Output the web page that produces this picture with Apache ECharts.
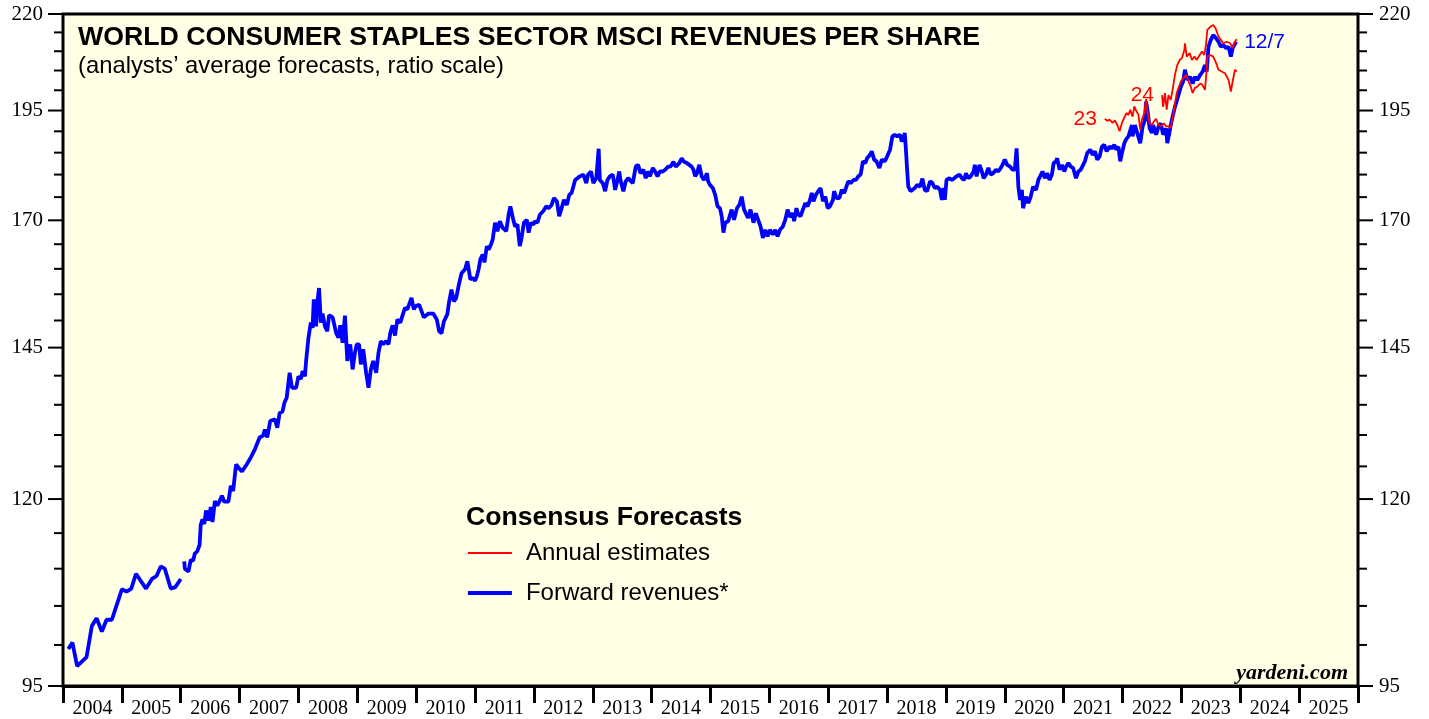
<!DOCTYPE html>
<html>
<head>
<meta charset="utf-8">
<title>World Consumer Staples Sector MSCI Revenues per Share</title>
<script src="https://cdn.jsdelivr.net/npm/echarts/dist/echarts.min.js"></script>
<style>
  html, body { margin: 0; padding: 0; background: #fff; }
  #chart { width: 1429px; height: 719px; }
</style>
</head>
<body>
<div id="chart"></div>
<script>
// x axis: one category per calendar year, data on a hidden decimal-year value axis
const years = ['2004','2005','2006','2007','2008','2009','2010','2011','2012','2013','2014',
  '2015','2016','2017','2018','2019','2020','2021','2022','2023','2024','2025'];
const xMin = 2004, xMax = 2026;

// ratio scale ticks
const yMajorTicks = [95, 120, 145, 170, 195, 220];
const yMinorTicks = [100, 105, 110, 115, 125, 130, 135, 140, 150, 155, 160, 165,
  175, 180, 185, 190, 200, 205, 210, 215];

// forward revenues per share, [decimal year, value]; '-' = break in the series
const fwdRevenues = [
  [2004.09, 99.5], [2004.16, 100.3], [2004.24, 97.4], [2004.40, 98.5], [2004.49, 102.4],
  [2004.57, 103.4], [2004.66, 101.7], [2004.74, 103.2], [2004.83, 103.2], [2005.00, 107.2],
  [2005.08, 106.9], [2005.16, 107.3], [2005.24, 109.3], [2005.41, 107.3], [2005.51, 108.6],
  [2005.59, 109.0], [2005.66, 110.3], [2005.73, 110.0], [2005.83, 107.3], [2005.91, 107.5],
  [2006.00, 108.6], [2006.03, '-'],
  [2006.06, 111.0], [2006.07, 110.0], [2006.13, 109.6], [2006.17, 111.2], [2006.21, 111.1],
  [2006.24, 112.1], [2006.28, 112.4], [2006.32, 113.3], [2006.34, 116.2], [2006.37, 117.0],
  [2006.40, 116.3], [2006.43, 118.3], [2006.47, 116.8], [2006.51, 118.8], [2006.54, 116.6],
  [2006.58, 119.7], [2006.62, 119.0], [2006.66, 119.7], [2006.70, 120.5], [2006.74, 119.6],
  [2006.81, 119.6], [2006.85, 122.0], [2006.89, 121.2], [2006.94, 125.3], [2007.00, 124.6],
  [2007.04, 124.2], [2007.12, 125.3], [2007.19, 126.4], [2007.26, 127.7], [2007.34, 129.6],
  [2007.40, 129.9], [2007.43, 130.9], [2007.47, 129.6], [2007.52, 132.3], [2007.60, 132.6],
  [2007.64, 131.2], [2007.68, 133.6], [2007.73, 133.9], [2007.76, 135.3], [2007.80, 136.2],
  [2007.85, 140.5], [2007.89, 137.9], [2007.92, 138.1], [2007.96, 137.9], [2008.00, 139.9],
  [2008.04, 139.4], [2008.07, 140.8], [2008.11, 139.9], [2008.13, 142.6], [2008.17, 146.8],
  [2008.21, 149.6], [2008.24, 148.6], [2008.26, 154.0], [2008.30, 148.9], [2008.32, 153.4],
  [2008.35, 156.2], [2008.38, 149.6], [2008.41, 151.3], [2008.45, 148.9], [2008.49, 148.0],
  [2008.52, 151.0], [2008.58, 150.6], [2008.64, 147.7], [2008.68, 146.8], [2008.71, 149.1],
  [2008.75, 145.9], [2008.79, 150.9], [2008.83, 142.6], [2008.88, 145.6], [2008.92, 141.1],
  [2008.96, 144.1], [2008.99, 145.6], [2009.03, 145.6], [2009.06, 142.0], [2009.10, 144.7],
  [2009.15, 140.5], [2009.19, 137.9], [2009.23, 141.1], [2009.27, 142.6], [2009.32, 140.5],
  [2009.36, 144.1], [2009.40, 146.2], [2009.44, 145.6], [2009.49, 146.2], [2009.53, 145.6],
  [2009.56, 147.7], [2009.60, 149.1], [2009.64, 147.2], [2009.68, 150.2], [2009.73, 149.6],
  [2009.77, 151.0], [2009.81, 152.4], [2009.85, 152.1], [2009.92, 154.3], [2009.96, 152.1],
  [2009.99, 152.7], [2010.05, 153.0], [2010.13, 150.6], [2010.21, 151.3], [2010.29, 151.3],
  [2010.35, 150.2], [2010.39, 148.0], [2010.43, 147.6], [2010.47, 149.8], [2010.53, 151.2],
  [2010.56, 153.6], [2010.60, 155.9], [2010.64, 153.6], [2010.68, 154.3], [2010.72, 156.6],
  [2010.77, 159.1], [2010.83, 159.9], [2010.87, 161.5], [2010.92, 157.9], [2010.96, 158.2],
  [2011.00, 157.6], [2011.03, 158.5], [2011.06, 159.9], [2011.09, 161.9], [2011.13, 162.9],
  [2011.16, 161.3], [2011.20, 164.6], [2011.23, 163.9], [2011.27, 164.9], [2011.30, 166.0],
  [2011.34, 169.5], [2011.38, 167.7], [2011.42, 169.8], [2011.47, 168.4], [2011.53, 167.7],
  [2011.57, 171.2], [2011.60, 173.0], [2011.65, 170.1], [2011.68, 168.7], [2011.72, 169.1],
  [2011.76, 164.6], [2011.79, 166.3], [2011.83, 169.5], [2011.88, 170.1], [2011.91, 167.4],
  [2011.95, 169.5], [2011.99, 169.1], [2012.02, 169.8], [2012.06, 169.5], [2012.10, 171.2],
  [2012.16, 172.0], [2012.21, 173.0], [2012.25, 172.6], [2012.30, 173.3], [2012.34, 174.8],
  [2012.39, 174.1], [2012.43, 170.9], [2012.47, 172.6], [2012.51, 174.4], [2012.56, 173.3],
  [2012.60, 175.5], [2012.64, 175.9], [2012.70, 178.8], [2012.74, 179.2], [2012.78, 179.6],
  [2012.84, 180.0], [2012.89, 178.1], [2012.92, 180.0], [2012.97, 180.7], [2013.01, 178.1],
  [2013.06, 179.2], [2013.10, 185.9], [2013.12, 178.8], [2013.17, 178.1], [2013.21, 176.3],
  [2013.25, 178.8], [2013.29, 179.6], [2013.34, 180.0], [2013.38, 176.6], [2013.42, 178.8],
  [2013.45, 180.7], [2013.47, 178.8], [2013.52, 176.3], [2013.56, 178.5], [2013.60, 179.2],
  [2013.68, 178.1], [2013.73, 181.8], [2013.77, 182.2], [2013.81, 180.3], [2013.86, 181.1],
  [2013.90, 179.2], [2013.94, 180.7], [2013.97, 179.6], [2014.02, 181.5], [2014.06, 180.7],
  [2014.10, 179.6], [2014.14, 180.7], [2014.19, 180.7], [2014.23, 181.1], [2014.28, 181.8],
  [2014.32, 181.8], [2014.37, 182.9], [2014.41, 181.8], [2014.47, 182.6], [2014.51, 183.7],
  [2014.55, 182.9], [2014.60, 182.6], [2014.64, 182.2], [2014.68, 181.8], [2014.71, 181.1],
  [2014.74, 179.6], [2014.77, 180.3], [2014.81, 182.2], [2014.85, 179.6], [2014.89, 178.8],
  [2014.94, 180.3], [2014.96, 178.5], [2014.99, 177.7], [2015.04, 177.0], [2015.08, 175.5],
  [2015.12, 173.0], [2015.16, 172.6], [2015.19, 170.9], [2015.22, 167.4], [2015.25, 169.5],
  [2015.30, 169.8], [2015.36, 172.3], [2015.40, 170.1], [2015.45, 172.6], [2015.49, 173.3],
  [2015.53, 175.1], [2015.57, 172.3], [2015.60, 171.5], [2015.64, 170.5], [2015.68, 172.3],
  [2015.73, 169.5], [2015.77, 171.5], [2015.81, 170.1], [2015.85, 168.7], [2015.89, 166.3],
  [2015.93, 168.0], [2015.97, 166.6], [2016.01, 168.0], [2016.06, 167.0], [2016.10, 168.0],
  [2016.14, 166.6], [2016.18, 168.0], [2016.23, 168.7], [2016.27, 170.1], [2016.31, 172.3],
  [2016.35, 170.7], [2016.40, 171.5], [2016.42, 169.8], [2016.46, 172.6], [2016.49, 171.2],
  [2016.53, 170.9], [2016.57, 172.3], [2016.61, 173.7], [2016.65, 173.0], [2016.69, 174.4],
  [2016.72, 175.9], [2016.75, 174.1], [2016.79, 175.5], [2016.83, 176.3], [2016.87, 177.0],
  [2016.91, 174.1], [2016.95, 175.1], [2016.99, 172.6], [2017.03, 173.0], [2017.08, 174.4],
  [2017.10, 176.3], [2017.14, 174.8], [2017.19, 174.8], [2017.23, 176.6], [2017.27, 175.9],
  [2017.30, 177.0], [2017.34, 178.5], [2017.38, 178.1], [2017.43, 178.8], [2017.47, 178.8],
  [2017.51, 179.6], [2017.55, 180.0], [2017.59, 183.0], [2017.63, 182.6], [2017.66, 183.7],
  [2017.71, 184.5], [2017.74, 185.3], [2017.78, 183.4], [2017.82, 183.0], [2017.87, 181.5],
  [2017.91, 183.4], [2017.96, 183.0], [2018.00, 184.1], [2018.05, 185.7], [2018.09, 188.8],
  [2018.13, 189.2], [2018.17, 188.8], [2018.22, 189.2], [2018.25, 187.6], [2018.28, 188.4],
  [2018.30, 189.6], [2018.32, 185.7], [2018.34, 181.1], [2018.36, 177.3], [2018.40, 176.3],
  [2018.43, 175.9], [2018.47, 177.0], [2018.51, 177.7], [2018.56, 177.3], [2018.60, 179.1],
  [2018.64, 176.6], [2018.68, 176.3], [2018.73, 178.5], [2018.77, 178.1], [2018.81, 177.0],
  [2018.85, 177.3], [2018.90, 176.6], [2018.93, 174.4], [2018.96, 177.0], [2018.98, 174.4],
  [2019.01, 178.8], [2019.06, 179.2], [2019.10, 178.8], [2019.14, 179.2], [2019.18, 179.6],
  [2019.23, 180.0], [2019.27, 179.2], [2019.31, 178.8], [2019.34, 180.3], [2019.38, 179.2],
  [2019.42, 179.6], [2019.47, 180.7], [2019.49, 182.2], [2019.52, 179.6], [2019.57, 182.2],
  [2019.61, 180.7], [2019.64, 179.2], [2019.68, 180.0], [2019.72, 181.5], [2019.76, 180.0],
  [2019.80, 180.3], [2019.85, 181.1], [2019.89, 180.7], [2019.93, 181.5], [2019.96, 182.2],
  [2020.00, 183.4], [2020.04, 182.2], [2020.09, 181.8], [2020.13, 181.1], [2020.17, 181.1],
  [2020.20, 186.0], [2020.23, 177.3], [2020.26, 174.4], [2020.29, 176.6], [2020.31, 172.6],
  [2020.36, 175.1], [2020.40, 173.7], [2020.44, 175.1], [2020.48, 177.3], [2020.53, 176.6],
  [2020.57, 178.8], [2020.60, 178.5], [2020.64, 180.7], [2020.68, 179.2], [2020.72, 180.3],
  [2020.76, 178.8], [2020.80, 180.0], [2020.83, 182.6], [2020.87, 183.0], [2020.89, 183.7],
  [2020.93, 181.1], [2020.97, 182.2], [2021.01, 180.7], [2021.04, 181.8], [2021.08, 182.6],
  [2021.12, 181.8], [2021.16, 181.5], [2021.21, 179.2], [2021.25, 180.7], [2021.29, 181.1],
  [2021.32, 180.7], [2021.36, 183.0], [2021.40, 184.9], [2021.45, 185.7], [2021.49, 184.5],
  [2021.53, 185.3], [2021.57, 183.4], [2021.61, 184.1], [2021.65, 186.4], [2021.69, 186.8],
  [2021.73, 185.3], [2021.78, 186.4], [2021.82, 186.0], [2021.86, 186.8], [2021.89, 185.7],
  [2021.93, 186.4], [2021.96, 183.0], [2021.99, 184.9], [2022.03, 187.2], [2022.06, 188.1],
  [2022.10, 188.8], [2022.13, 189.2], [2022.16, 191.5], [2022.17, 188.8], [2022.21, 191.5],
  [2022.25, 189.6], [2022.30, 187.2], [2022.34, 191.1], [2022.38, 192.7], [2022.40, 197.2],
  [2022.43, 194.4], [2022.46, 190.7], [2022.50, 189.6], [2022.52, 191.5], [2022.57, 189.2],
  [2022.61, 191.1], [2022.65, 191.9], [2022.69, 189.2], [2022.74, 190.7], [2022.76, 187.2],
  [2022.80, 190.0], [2022.82, 191.5], [2022.85, 193.5], [2022.89, 195.9], [2022.95, 198.8],
  [2022.99, 200.9], [2023.03, 202.2], [2023.06, 205.2], [2023.10, 202.6], [2023.15, 203.4],
  [2023.19, 201.7], [2023.23, 203.4], [2023.27, 202.6], [2023.32, 203.9], [2023.36, 204.7],
  [2023.40, 206.4], [2023.43, 204.7], [2023.46, 211.2], [2023.50, 213.0], [2023.54, 214.3],
  [2023.59, 213.4], [2023.63, 212.5], [2023.67, 211.2], [2023.71, 211.6], [2023.76, 210.8],
  [2023.80, 211.2], [2023.84, 208.6], [2023.87, 210.8], [2023.90, 211.2], [2023.93, 212.5]
];

// annual consensus estimates for 2023 and 2024
const est2023 = [
  [2021.70, 193.0], [2021.74, 192.5], [2021.78, 192.8], [2021.83, 192.0], [2021.87, 192.6],
  [2021.92, 191.2], [2021.95, 190.0], [2021.99, 192.0], [2022.03, 193.3], [2022.07, 194.4],
  [2022.10, 193.9], [2022.13, 195.2], [2022.17, 193.5], [2022.20, 196.0], [2022.23, 195.0],
  [2022.27, 194.0], [2022.30, 190.4], [2022.33, 192.8], [2022.37, 194.4], [2022.40, 197.8],
  [2022.43, 193.9], [2022.46, 191.9], [2022.50, 191.5], [2022.53, 192.3], [2022.57, 193.0],
  [2022.61, 191.5], [2022.65, 191.2], [2022.70, 191.9], [2022.74, 191.2], [2022.78, 191.2],
  [2022.82, 190.8], [2022.86, 193.9], [2022.92, 199.3], [2022.99, 202.2], [2023.03, 203.0],
  [2023.08, 203.9], [2023.12, 202.2], [2023.16, 200.9], [2023.19, 199.3], [2023.23, 200.6],
  [2023.27, 200.9], [2023.32, 201.7], [2023.36, 201.3], [2023.40, 200.1], [2023.43, 205.2],
  [2023.44, 208.6], [2023.49, 209.0], [2023.54, 208.6], [2023.59, 206.9], [2023.63, 205.2],
  [2023.69, 204.7], [2023.74, 204.3], [2023.80, 202.6], [2023.84, 199.7], [2023.87, 202.2],
  [2023.91, 205.2], [2023.94, 204.7]
];
const est2024 = [
  [2022.67, 198.8], [2022.69, 195.9], [2022.72, 199.3], [2022.75, 195.2], [2022.78, 198.8],
  [2022.82, 197.6], [2022.85, 200.1], [2022.89, 203.9], [2022.93, 206.4], [2022.97, 207.7],
  [2023.01, 208.2], [2023.05, 210.3], [2023.06, 212.1], [2023.09, 208.6], [2023.14, 209.5],
  [2023.18, 207.7], [2023.22, 208.6], [2023.26, 207.7], [2023.31, 209.0], [2023.35, 209.9],
  [2023.39, 209.0], [2023.42, 212.1], [2023.44, 215.7], [2023.49, 216.5], [2023.54, 217.0],
  [2023.58, 216.1], [2023.63, 213.9], [2023.67, 213.0], [2023.71, 212.1], [2023.77, 212.5],
  [2023.83, 212.1], [2023.87, 210.8], [2023.91, 212.5], [2023.94, 213.2]
];

const RED = '#ff0000', BLUE = '#0000ff';
const SANS = '"Liberation Sans", Arial, sans-serif';
const SERIF = '"Liberation Serif", "Times New Roman", serif';

const chart = echarts.init(document.getElementById('chart'));

// tick rows for the ratio-scale axis: [x at axis start, value, isMajor]
const yTickData = yMajorTicks.map(v => [xMin, v, 1]).concat(yMinorTicks.map(v => [xMin, v, 0]));

// labels for the start of each annual estimate line
function startLabel(data, text) {
  return {
    symbol: 'circle', symbolSize: 0, silent: true,
    data: [{ coord: data[0], label: { show: true, position: 'left', distance: 8, formatter: text,
      color: RED, fontFamily: SANS, fontSize: 21 } }]
  };
}

chart.setOption({
  animation: false,
  grid: { left: 63, right: 71, top: 14, bottom: 32, show: true,
    backgroundColor: '#ffffe6', borderColor: '#000', borderWidth: 3 },
  xAxis: [{
    type: 'category', data: years, boundaryGap: true, position: 'bottom',
    axisLine: { show: true, lineStyle: { color: '#000', width: 3 } },
    axisTick: { show: true, length: 17, lineStyle: { color: '#000', width: 3 } },
    axisLabel: { interval: 0, margin: 13, color: '#000', fontFamily: SERIF, fontSize: 20 },
    splitLine: { show: false }
  }, {
    type: 'value', min: xMin, max: xMax, show: false
  }],
  yAxis: {
    type: 'log', logBase: 10, min: 95, max: 220,
    axisLine: { show: false }, axisTick: { show: false },
    axisLabel: { show: false }, splitLine: { show: false }
  },
  legend: {
    left: 466, top: 540, orient: 'vertical', padding: 0, itemGap: 14,
    itemWidth: 44, itemHeight: 14,
    itemStyle: { opacity: 0 },
    data: [
      { name: 'Annual estimates', lineStyle: { width: 2 } },
      { name: 'Forward revenues*', lineStyle: { width: 3.8 } }
    ],
    textStyle: { color: '#000', fontFamily: SANS, fontSize: 24, lineHeight: 26, padding: [0, 0, 0, 9] }
  },
  graphic: [
    { type: 'text', left: 78, top: 24, style: { text: 'WORLD CONSUMER STAPLES SECTOR MSCI REVENUES PER SHARE',
      font: 'bold 26.7px ' + SANS, fill: '#000' } },
    { type: 'text', left: 78, top: 54, style: { text: '(analysts\u2019 average forecasts, ratio scale)',
      font: '23.8px ' + SANS, fill: '#000' } },
    { type: 'text', left: 466, top: 504, style: { text: 'Consensus Forecasts',
      font: 'bold 26.6px ' + SANS, fill: '#000' } },
    { type: 'text', right: 81, top: 662, style: { text: 'yardeni.com',
      font: 'italic bold 22px ' + SERIF, fill: '#000' } }
  ],
  series: [
    {
      name: 'Forward revenues*', type: 'line', xAxisIndex: 1, data: fwdRevenues,
      showSymbol: false, symbol: 'none', connectNulls: false, z: 3,
      lineStyle: { color: BLUE, width: 3.8 }, itemStyle: { color: BLUE },
      endLabel: { show: true, formatter: '12/7', distance: 8, color: BLUE, fontFamily: SANS, fontSize: 21 }
    },
    {
      name: 'Annual estimates', type: 'line', xAxisIndex: 1, data: est2023,
      showSymbol: false, symbol: 'none', z: 4,
      lineStyle: { color: RED, width: 1.8 }, itemStyle: { color: RED },
      markPoint: startLabel(est2023, '23')
    },
    {
      name: 'Annual estimates', type: 'line', xAxisIndex: 1, data: est2024,
      showSymbol: false, symbol: 'none', z: 4,
      lineStyle: { color: RED, width: 1.8 }, itemStyle: { color: RED },
      markPoint: startLabel(est2024, '24')
    },
    {
      // ratio-scale ticks and labels on both sides, placed through the axis scale
      name: 'yTicks', type: 'custom', xAxisIndex: 1, silent: true, clip: false, z: 10,
      data: yTickData,
      renderItem: function (params, api) {
        const v = api.value(1), major = api.value(2) === 1;
        const l = api.coord([xMin, v]), r = api.coord([xMax, v]);
        const len = major ? 15 : 9;
        const lineStyle = { stroke: '#000', lineWidth: 2 };
        const children = [
          { type: 'line', shape: { x1: l[0] - len, y1: l[1], x2: l[0], y2: l[1] }, style: lineStyle },
          { type: 'line', shape: { x1: r[0], y1: r[1], x2: r[0] + len, y2: r[1] }, style: lineStyle }
        ];
        if (major) {
          const font = '21px ' + SERIF;
          children.push({ type: 'text', style: { text: String(v), x: l[0] - 20, y: l[1],
            align: 'right', verticalAlign: 'middle', font: font, fill: '#000' } });
          children.push({ type: 'text', style: { text: String(v), x: r[0] + 21, y: r[1],
            align: 'left', verticalAlign: 'middle', font: font, fill: '#000' } });
        }
        return { type: 'group', children: children };
      }
    }
  ]
});
</script>
</body>
</html>
